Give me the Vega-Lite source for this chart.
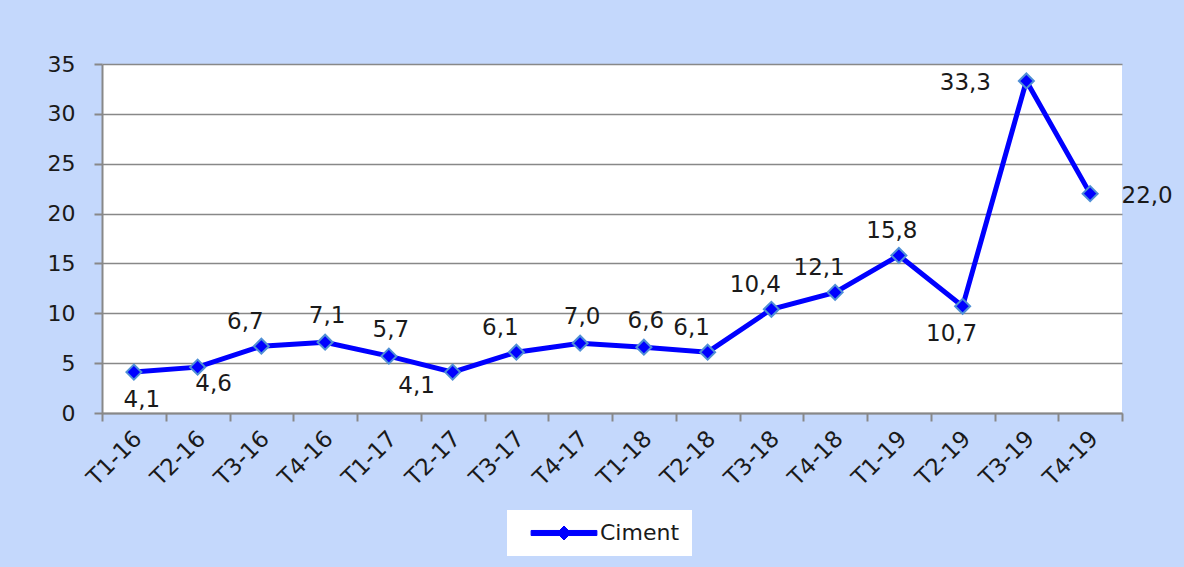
{
  "$schema": "https://vega.github.io/schema/vega-lite/v6.json",
  "autosize": {"type": "none"},
  "width": 1020,
  "height": 349,
  "padding": {"left": 102, "top": 64, "right": 62, "bottom": 154},
  "background": "#c4d8fc",
  "config": {
    "locale": {"number": {"decimal": ",", "thousands": ".", "grouping": [3], "currency": ["", " €"]}},
    "view": {"fill": "white", "stroke": null},
    "font": "DejaVu Sans",
    "text": {"font": "DejaVu Sans", "fontSize": 23, "color": "#1a1a1a"}
  },
  "data": {
    "values": [
      {"q": "T1-16", "v": 4.1},
      {"q": "T2-16", "v": 4.6},
      {"q": "T3-16", "v": 6.7},
      {"q": "T4-16", "v": 7.1},
      {"q": "T1-17", "v": 5.7},
      {"q": "T2-17", "v": 4.1},
      {"q": "T3-17", "v": 6.1},
      {"q": "T4-17", "v": 7.0},
      {"q": "T1-18", "v": 6.6},
      {"q": "T2-18", "v": 6.1},
      {"q": "T3-18", "v": 10.4},
      {"q": "T4-18", "v": 12.1},
      {"q": "T1-19", "v": 15.8},
      {"q": "T2-19", "v": 10.7},
      {"q": "T3-19", "v": 33.3},
      {"q": "T4-19", "v": 22.0}
    ]
  },
  "encoding": {
    "x": {
      "field": "q", "type": "ordinal", "sort": null, "bandPosition": 0.5,
      "scale": {"type": "band", "paddingInner": 0, "paddingOuter": 0},
      "axis": {
        "title": null, "labelAngle": -45, "tickBand": "extent", "grid": false,
        "domainColor": "#888888", "domainWidth": 2, "tickColor": "#888888", "tickWidth": 2, "tickSize": 8,
        "labelFont": "DejaVu Sans", "labelFontSize": 23, "labelColor": "#1a1a1a", "labelPadding": 6, "labelOffset": -4
      }
    },
    "y": {
      "field": "v", "type": "quantitative",
      "scale": {"domain": [0, 35], "nice": false},
      "axis": {
        "title": null, "values": [0, 5, 10, 15, 20, 25, 30, 35], "grid": true,
        "gridColor": "#888888", "gridWidth": 1.5, "domainColor": "#888888", "domainWidth": 2,
        "tickColor": "#888888", "tickWidth": 2, "tickSize": 8, "labelPadding": 19,
        "labelFont": "DejaVu Sans", "labelFontSize": 22, "labelColor": "#1a1a1a"
      }
    }
  },
  "layer": [
    {
      "mark": {"type": "line", "strokeWidth": 5},
      "encoding": {
        "color": {
          "datum": "Ciment",
          "scale": {"range": ["#0000ff"]},
          "legend": {
            "title": null, "orient": "none", "legendX": 405, "legendY": 446,
            "fillColor": "white", "padding": 12,
            "symbolType": "M-4.7,-0.36H4.7V0.36H-4.7Z M0,-1L1,0L0,1L-1,0Z",
            "symbolSize": 196, "symbolOffset": 34, "labelOffset": 25,
            "labelFont": "DejaVu Sans", "labelFontSize": 22, "labelColor": "#1a1a1a",
            "encode": {"symbols": {"update": {"fill": {"value": "#0000ff"}, "stroke": {"value": "#0000ff"}, "strokeWidth": {"value": 1}}}}
          }
        }
      }
    },
    {
      "mark": {"type": "point", "shape": "diamond", "size": 225, "filled": true, "fill": "#0000ff", "stroke": "#4f8fd6", "strokeWidth": 2, "opacity": 1}
    },
    {
      "transform": [{"filter": {"field": "q", "oneOf": ["T4-16", "T1-17", "T4-17", "T1-18"]}}],
      "mark": {"type": "text", "dx": 2, "dy": -26},
      "encoding": {"text": {"field": "v", "type": "quantitative", "format": ".1f"}}
    },
    {
      "transform": [{"filter": {"field": "q", "oneOf": ["T3-16", "T3-17", "T2-18", "T3-18", "T4-18"]}}],
      "mark": {"type": "text", "dx": -16, "dy": -24},
      "encoding": {"text": {"field": "v", "type": "quantitative", "format": ".1f"}}
    },
    {
      "transform": [{"filter": {"field": "q", "equal": "T1-19"}}],
      "mark": {"type": "text", "dx": -7, "dy": -24},
      "encoding": {"text": {"field": "v", "type": "quantitative", "format": ".1f"}}
    },
    {
      "transform": [{"filter": {"field": "q", "equal": "T1-16"}}],
      "mark": {"type": "text", "dx": 8, "dy": 28},
      "encoding": {"text": {"field": "v", "type": "quantitative", "format": ".1f"}}
    },
    {
      "transform": [{"filter": {"field": "q", "equal": "T2-16"}}],
      "mark": {"type": "text", "dx": 16, "dy": 17},
      "encoding": {"text": {"field": "v", "type": "quantitative", "format": ".1f"}}
    },
    {
      "transform": [{"filter": {"field": "q", "equal": "T2-17"}}],
      "mark": {"type": "text", "dx": -36, "dy": 14},
      "encoding": {"text": {"field": "v", "type": "quantitative", "format": ".1f"}}
    },
    {
      "transform": [{"filter": {"field": "q", "equal": "T2-19"}}],
      "mark": {"type": "text", "dx": -11, "dy": 28},
      "encoding": {"text": {"field": "v", "type": "quantitative", "format": ".1f"}}
    },
    {
      "transform": [{"filter": {"field": "q", "equal": "T3-19"}}],
      "mark": {"type": "text", "dx": -61, "dy": 2},
      "encoding": {"text": {"field": "v", "type": "quantitative", "format": ".1f"}}
    },
    {
      "transform": [{"filter": {"field": "q", "equal": "T4-19"}}],
      "mark": {"type": "text", "dx": 57, "dy": 2},
      "encoding": {"text": {"field": "v", "type": "quantitative", "format": ".1f"}}
    }
  ]
}
